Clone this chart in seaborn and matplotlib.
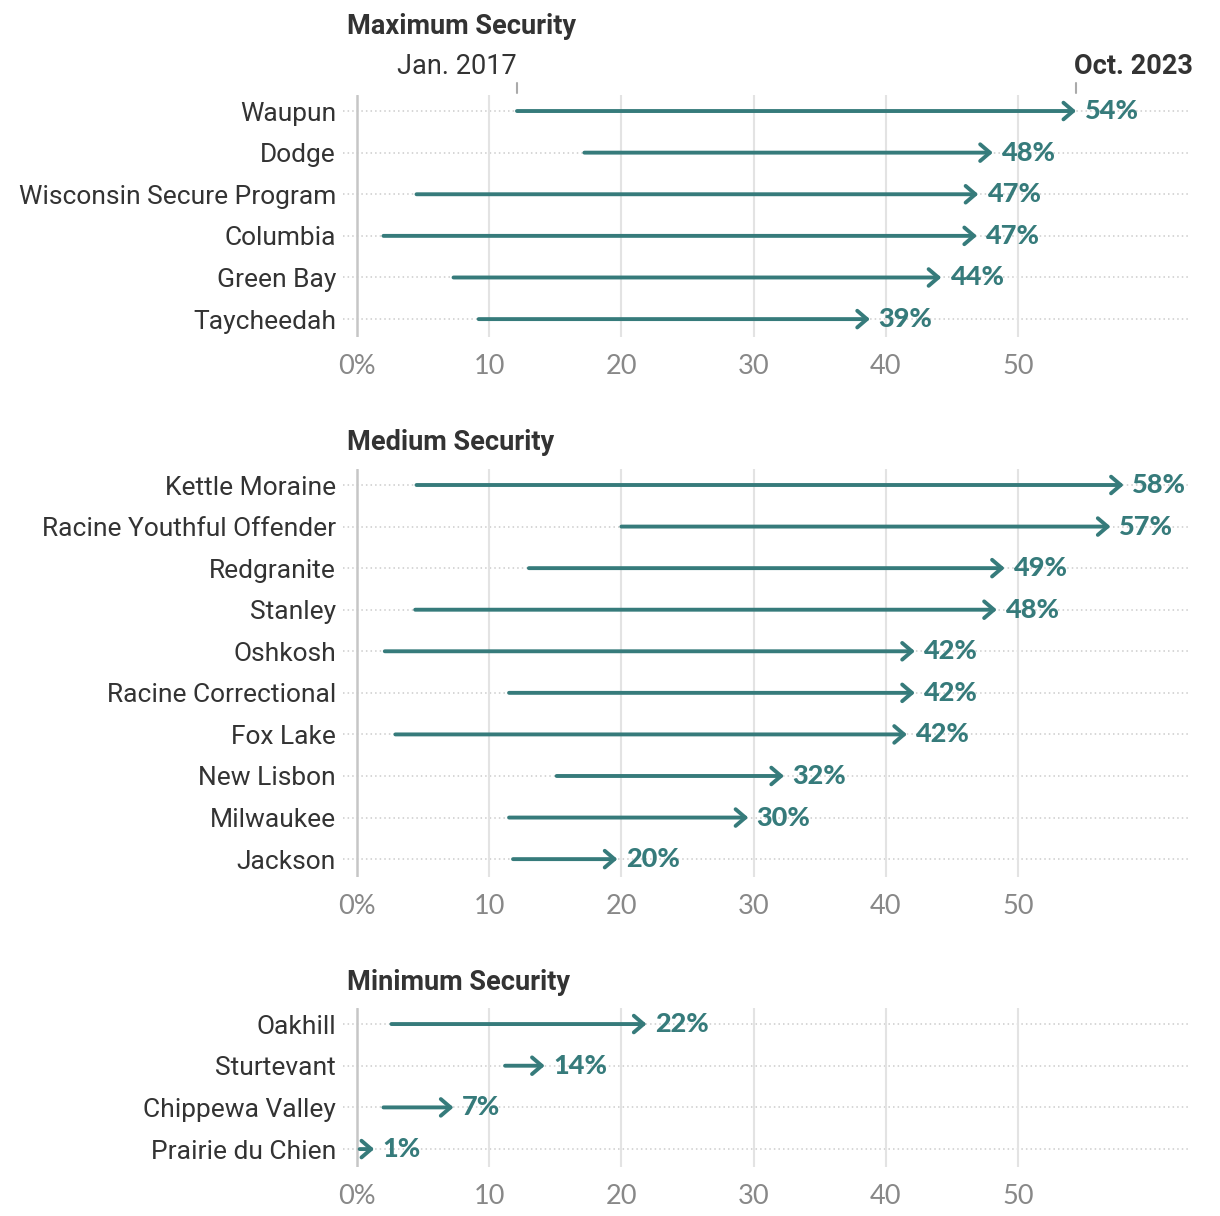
import numpy as np
import pandas as pd
import matplotlib
matplotlib.use('Agg')
import matplotlib.pyplot as plt
import seaborn as sns

# ─────────────────────────────────────────────
# DATA  (share of prison population, Jan. 2017 -> Oct. 2023)
# ─────────────────────────────────────────────

max_names = ['Waupun', 'Dodge', 'Wisconsin Secure Program', 'Columbia',
             'Green Bay', 'Taycheedah']
max_start = [12.1, 17.2, 4.5, 2.0, 7.3, 9.2]
max_end = [54.4, 48.1, 47.0, 46.9, 44.2, 38.8]

med_names = ['Kettle Moraine', 'Racine Youthful Offender', 'Redgranite',
             'Stanley', 'Oshkosh', 'Racine Correctional', 'Fox Lake',
             'New Lisbon', 'Milwaukee', 'Jackson']
med_start = [4.5, 20.0, 13.0, 4.4, 2.1, 11.5, 2.9, 15.1, 11.5, 11.8]
med_end = [58.0, 57.0, 49.0, 48.4, 42.2, 42.2, 41.6, 32.3, 29.6, 19.7]

min_names = ['Oakhill', 'Sturtevant', 'Chippewa Valley', 'Prairie du Chien']
min_start = [2.6, 11.2, 2.0, 0.2]
min_end = [21.9, 14.2, 7.3, 1.3]

x_ticks = [0, 10, 20, 30, 40, 50]
x_tick_labels = ['0%', '10', '20', '30', '40', '50']

panel_titles = ['Maximum Security', 'Medium Security', 'Minimum Security']

# ─────────────────────────────────────────────
# STYLE
# ─────────────────────────────────────────────

W, H = 1220, 1216
TEAL = '#367b7b'
DARK = '#333333'
GRAY = '#888888'
NAME_FONT = ['Roboto', 'DejaVu Sans']
NUM_FONT = ['Lato', 'DejaVu Sans']
FS = 19.5

sns.set_theme(style='white')
plt.rcParams['font.family'] = NAME_FONT

fig = plt.figure(figsize=(W / 100, H / 100), dpi=100)

# axes boxes in pixels: (top, bottom)
PX_LEFT, PX_RIGHT = 343, 1188
boxes = [(95, 337), (469, 877), (1008, 1167)]
X_LIM = (-1.06, 62.86)


def draw_panel(ax, names, start, end):
    """Arrow from 2017 share to 2023 share, one row per facility."""
    n = len(names)
    df = pd.DataFrame({'name': names, 'start': start, 'end': end})

    # categorical axis through seaborn (invisible points)
    sns.stripplot(data=df, x='end', y='name', order=names, jitter=False,
                  size=0, color=TEAL, ax=ax)

    for i, row in df.iterrows():
        ax.axhline(i, color='#cccccc', lw=1.1, ls=(0, (1, 2)), zorder=0)
        ax.annotate('', xy=(row['end'], i), xytext=(row['start'], i),
                    arrowprops=dict(arrowstyle='->,head_length=7,head_width=6',
                                    mutation_scale=1, color=TEAL, lw=2.8,
                                    shrinkA=0, shrinkB=0,
                                    capstyle='round', joinstyle='round'),
                    zorder=3)
        ax.annotate(f"{round(row['end'])}%", xy=(row['end'], i), xytext=(6, 0),
                    textcoords='offset points', ha='left', va='center',
                    color=TEAL, fontsize=FS, fontweight='black',
                    family=NUM_FONT, zorder=4)

    for v in x_ticks[1:]:
        ax.axvline(v, color='#e3e3e3', lw=1.5, zorder=0)
    ax.axvline(0, color='#c6c6c6', lw=1.8, zorder=1)

    ax.set_xlim(*X_LIM)
    ax.set_ylim(n - 1 + 0.43, -0.385)
    ax.set_xticks(x_ticks)
    ax.set_xticklabels(x_tick_labels, family=NUM_FONT, fontsize=FS, color=GRAY)
    ax.set_yticks(range(n))
    ax.set_yticklabels(names, fontsize=19, color=DARK)
    ax.tick_params(axis='x', length=0, pad=12)
    ax.tick_params(axis='y', length=0, pad=5)
    ax.set_xlabel('')
    ax.set_ylabel('')
    for s in ax.spines.values():
        s.set_visible(False)


axes = []
data = [(max_names, max_start, max_end),
        (med_names, med_start, med_end),
        (min_names, min_start, min_end)]
for (top, bot), (names, start, end) in zip(boxes, data):
    ax = fig.add_axes([PX_LEFT / W, 1 - bot / H,
                       (PX_RIGHT - PX_LEFT) / W, (bot - top) / H])
    draw_panel(ax, names, start, end)
    axes.append(ax)

# panel titles
title_y = [27, 443, 983]
for title, y in zip(panel_titles, title_y):
    fig.text(347 / W, 1 - y / H, title, fontsize=FS, fontweight='bold',
             color=DARK, ha='left', va='center')

# Jan. 2017 / Oct. 2023 markers on the first row of the top panel
ax = axes[0]
ax_h = boxes[0][1] - boxes[0][0]
for xv, label, weight, ha in [(max_start[0], 'Jan. 2017', 'normal', 'right'),
                              (max_end[0], 'Oct. 2023', 'bold', 'left')]:
    ax.plot([xv, xv], [1 + 2 / ax_h, 1 + 12 / ax_h], color='#aaaaaa', lw=1.5,
            transform=ax.get_xaxis_transform(), clip_on=False)
    ax.text(xv - 0.15 if ha == 'left' else xv, 1 + 28 / ax_h, label,
            transform=ax.get_xaxis_transform(), ha=ha, va='center',
            fontsize=FS, fontweight=weight, color=DARK)

plt.savefig('out.png', dpi=100)
